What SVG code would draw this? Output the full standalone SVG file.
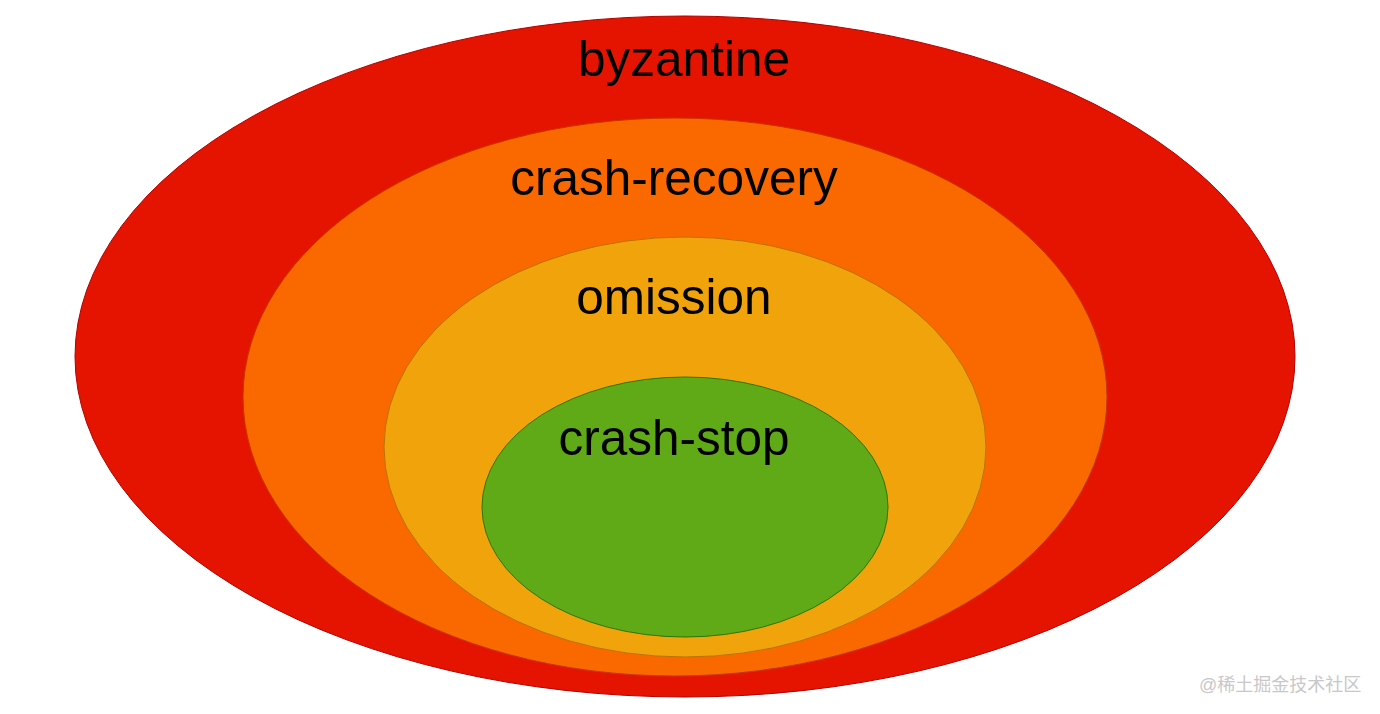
<svg xmlns="http://www.w3.org/2000/svg" width="1380" height="714" viewBox="0 0 1380 714">
<style>
.lbl{font-family:"Liberation Sans",Arial,Helvetica,sans-serif;font-size:49.5px;fill:#000;text-anchor:middle}
.wm{font-family:"Liberation Sans","Noto Sans CJK SC",sans-serif;font-size:18px;fill:#c8c8c8}
</style>
<rect width="1380" height="714" fill="#fff"/>
<g id="byzantine">
<ellipse cx="685" cy="356.5" rx="610" ry="340.5" fill="#e51400" stroke="#b20000" stroke-width="1"/>
<text class="lbl" x="684" y="76">byzantine</text>
</g>
<g id="crash-recovery">
<ellipse cx="675" cy="397" rx="432" ry="279" fill="#fa6800" stroke="#c73500" stroke-width="1"/>
<text class="lbl" x="674" y="195">crash-recovery</text>
</g>
<g id="omission">
<ellipse cx="685" cy="447" rx="301" ry="210" fill="#f0a30a" stroke="#bd7000" stroke-width="1"/>
<text class="lbl" x="674" y="314">omission</text>
</g>
<g id="crash-stop">
<ellipse cx="685" cy="507" rx="203" ry="130" fill="#60a917" stroke="#2d7600" stroke-width="1"/>
<text class="lbl" x="674" y="455">crash-stop</text>
</g>
<g id="connectors"></g>
<text class="wm" x="1199" y="691">@稀土掘金技术社区</text>
</svg>
